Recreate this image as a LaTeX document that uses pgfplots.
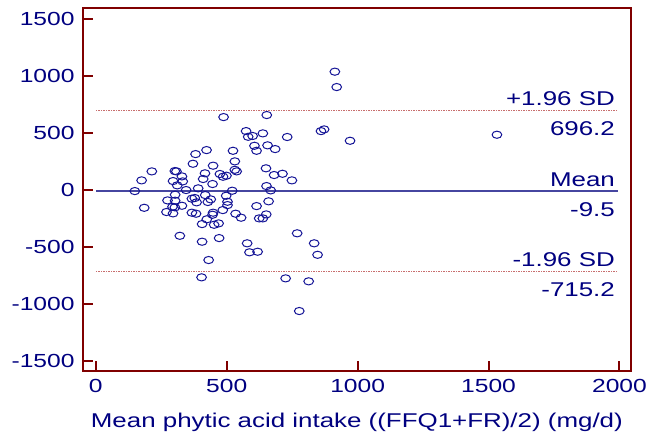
\documentclass[border=0pt]{standalone}
\usepackage{fontspec}
\setmainfont{Liberation Sans}[FakeStretch=1.3]
\usepackage{pgfplots}
\pgfplotsset{compat=1.18}
\definecolor{framec}{RGB}{128,0,0}
\definecolor{txt}{RGB}{0,0,128}
\definecolor{ptc}{RGB}{20,20,150}
\definecolor{meanc}{RGB}{70,70,160}
\definecolor{sdc}{RGB}{200,110,110}
\begin{document}
\begin{tikzpicture}
\begin{axis}[name=ax, scale only axis, width=548.3bp, height=362.7bp,
 xmin=-50, xmax=2044, ymin=-1590, ymax=1597,
 xtick={0,500,1000,1500,2000}, ytick={-1500,-1000,-500,0,500,1000,1500},
 tick align=inside, xtick pos=bottom, ytick pos=left,
 axis line style={framec, line width=2bp},
 tick style={framec, line width=2bp},
 major tick length=10bp,
 /pgf/number format/assume math mode=true,
 /pgf/number format/1000 sep={},
 ticklabel style={font=\fontsize{19}{22}\selectfont, text=txt, inner sep=0pt},
 xticklabel style={anchor=base, yshift=-21bp},
 yticklabel style={anchor=east, xshift=-8bp},
 xlabel={Mean phytic acid intake ((FFQ1+FR)/2) (mg/d)},
 xlabel style={font=\fontsize{20}{24}\selectfont, text=txt, at={(axis description cs:0.5,0)}, anchor=base, yshift=-56bp, inner sep=0pt},
]
\addplot[meanc, line width=2bp] coordinates {(0,-9.5) (1993,-9.5)};
\addplot[sdc, line width=1.2bp, dash pattern=on 1.5bp off 1bp] coordinates {(0,696.2) (1993,696.2)};
\addplot[sdc, line width=1.2bp, dash pattern=on 1.5bp off 1bp] coordinates {(0,-715.2) (1993,-715.2)};
\addplot[only marks, mark=o, mark size=3.6bp, mark options={xscale=1.35, draw=ptc, line width=1bp}] table {
x y
913 1040
920 905
488 641
653 659
574 518
582 468
599 475
638 498
731 466
860 518
872 533
971 433
606 389
614 345
656 393
685 360
423 351
381 316
524 345
531 252
371 231
448 214
214 164
175 85
302 167
308 164
329 120
295 79
332 76
311 41
417 147
410 97
474 141
499 126
486 117
531 178
538 164
650 191
681 132
713 143
749 85
446 53
652 35
149 -9
345 0
391 15
521 -6
668 -3
303 -41
418 -44
498 -50
367 -76
378 -70
274 -91
303 -94
385 -108
428 -105
439 -82
503 -103
503 -132
660 -99
185 -156
293 -147
302 -152
329 -138
614 -141
485 -176
270 -193
295 -205
367 -199
383 -208
448 -199
446 -217
534 -208
651 -214
555 -243
624 -249
638 -249
424 -257
406 -299
452 -305
469 -293
321 -402
769 -380
471 -422
406 -454
578 -468
834 -468
587 -547
618 -542
847 -569
431 -615
404 -767
725 -776
813 -802
777 -1063
1532 486
};
\node[anchor=base east, font=\fontsize{20}{24}\selectfont, text=txt, inner sep=0pt] at (axis cs:1983,747) {+1.96 SD};
\node[anchor=base east, font=\fontsize{20}{24}\selectfont, text=txt, inner sep=0pt] at (axis cs:1983,475) {696.2};
\node[anchor=base east, font=\fontsize{20}{24}\selectfont, text=txt, inner sep=0pt] at (axis cs:1983,29) {Mean};
\node[anchor=base east, font=\fontsize{20}{24}\selectfont, text=txt, inner sep=0pt] at (axis cs:1983,-235) {-9.5};
\node[anchor=base east, font=\fontsize{20}{24}\selectfont, text=txt, inner sep=0pt] at (axis cs:1983,-668) {-1.96 SD};
\node[anchor=base east, font=\fontsize{20}{24}\selectfont, text=txt, inner sep=0pt] at (axis cs:1983,-938) {-715.2};
\end{axis}
\pgfresetboundingbox
\path ([shift={(-82.7bp,-67bp)}]ax.south west) rectangle ([shift={(17bp,8.3bp)}]ax.north east);
\end{tikzpicture}
\end{document}
